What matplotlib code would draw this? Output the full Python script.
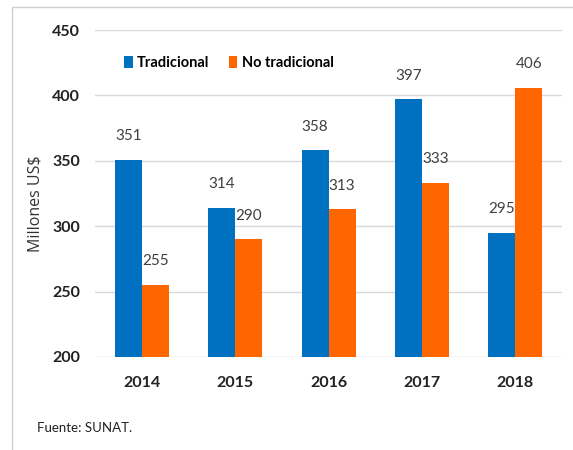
import matplotlib.pyplot as plt
from matplotlib.patches import Rectangle
import numpy as np

plt.rcParams['font.family'] = ['Lato', 'DejaVu Sans']

years = ["2014", "2015", "2016", "2017", "2018"]
tradicional = [351, 314, 358, 397, 295]
no_tradicional = [255, 290, 313, 333, 406]

blue = "#0070C0"
orange = "#FF6600"

fig = plt.figure(figsize=(5.73, 4.5), dpi=100)
ax = fig.add_axes([0.166, 0.207, 0.815, 0.726])

x = np.arange(len(years))
w = 0.29
b1 = ax.bar(x - w/2, tradicional, w, color=blue, label="Tradicional", zorder=2)
b2 = ax.bar(x + w/2, no_tradicional, w, color=orange, label="No tradicional", zorder=2)

# value labels above bars
for bars, vals in [(b1, tradicional), (b2, no_tradicional)]:
    for rect, v in zip(bars, vals):
        ax.annotate(str(v), (rect.get_x() + rect.get_width()/2, v),
                    xytext=(0, 12), textcoords="offset points",
                    ha="center", va="bottom", fontsize=11, color="#404040")

ax.set_ylim(200, 450)
ax.set_xlim(-0.5, 4.5)
ax.set_yticks([200, 250, 300, 350, 400, 450])
ax.set_xticks(x)
ax.set_xticklabels(years)
for lab in ax.get_xticklabels() + ax.get_yticklabels():
    lab.set_fontweight("bold")
    lab.set_fontsize(11.5)
    lab.set_color("#222222")
ax.tick_params(axis="y", length=0, pad=11)
ax.tick_params(axis="x", length=0, pad=14)
ax.grid(axis="y", color="#D9D9D9", linewidth=1, zorder=0)
for s in ax.spines.values():
    s.set_visible(False)

ax.set_ylabel("Millones US$", fontsize=11.5, color="#333333", family=["Open Sans"])
ax.yaxis.set_label_coords(-0.111, 0.468)

leg = ax.legend(loc="center left", bbox_to_anchor=(0.034, 0.9), ncol=2, frameon=False,
                handlelength=0.6, handleheight=0.9, handletextpad=0.3,
                columnspacing=1.3, prop={"weight": "bold", "size": 10.5})

fig.text(37/573, 1 - 428/450, "Fuente: SUNAT.", fontsize=9.5, color="#222222",
         va="center")

fig.patches.append(Rectangle((12/573, -0.1), 1.2, 1 - 7/450 + 0.1, transform=fig.transFigure,
                             fill=False, edgecolor="#D0D0D0", linewidth=1))

fig.savefig("out.png", dpi=100)
